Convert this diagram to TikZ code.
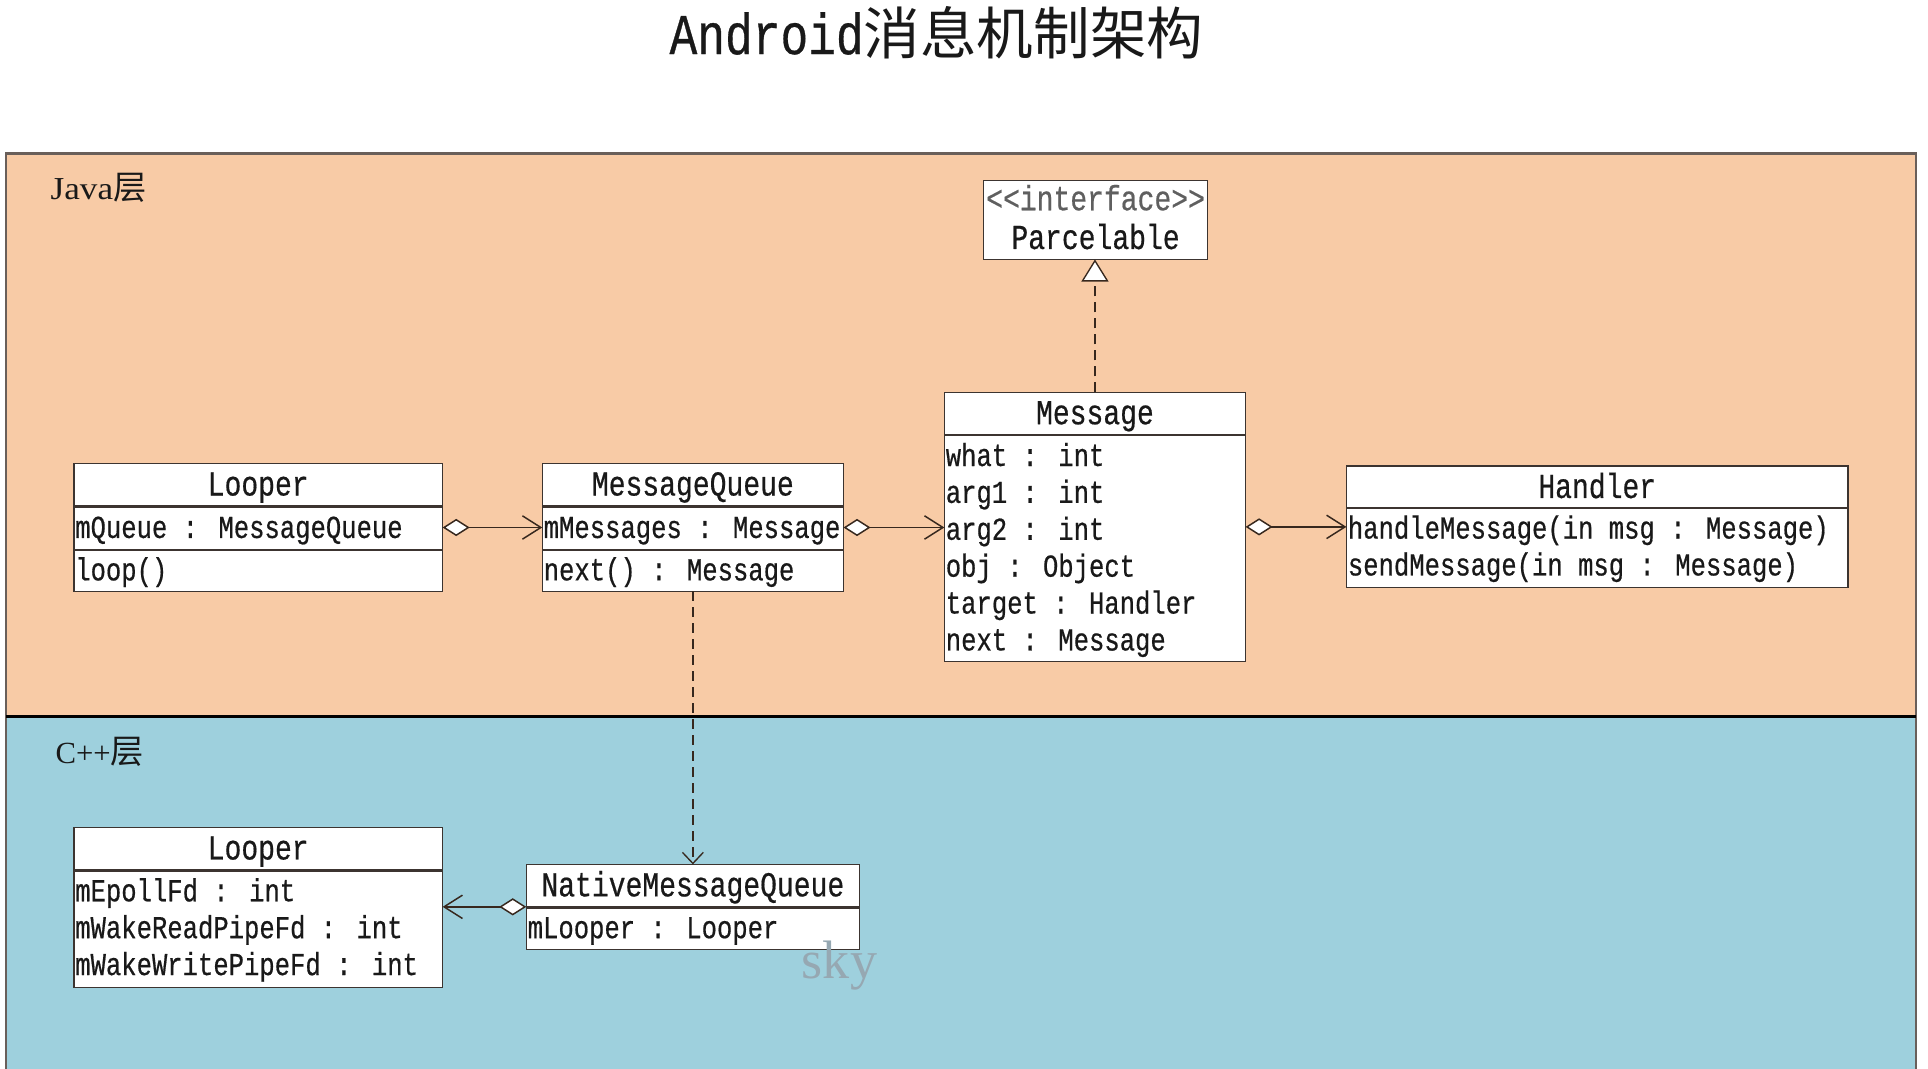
\documentclass[tikz,border=0pt]{standalone}
\usepackage{fontspec}
\usetikzlibrary{arrows.meta}
\newfontfamily\monof[FakeStretch=0.8,FakeBold=0.5]{Liberation Mono}
\newfontfamily\cjkf{Noto Sans CJK SC}
\newfontfamily\serf[FakeStretch=1.1]{Liberation Serif}
\newfontfamily\wmf{Liberation Serif}
\definecolor{javabg}{RGB}{248,203,166}
\definecolor{cppbg}{RGB}{158,208,221}
\definecolor{layerc}{RGB}{105,95,90}
\definecolor{edgec}{RGB}{60,52,48}
\definecolor{linec}{RGB}{55,40,30}
\definecolor{txtc}{RGB}{25,25,25}
\definecolor{grayt}{RGB}{95,95,95}
\definecolor{wmark}{RGB}{150,168,178}
\begin{document}
\begin{tikzpicture}[x=1pt,y=-1pt,
  cls/.style={draw=edgec, line width=1.2pt, fill=white, rectangle, inner sep=0pt, outer sep=0pt, anchor=north west},
  sepl/.style={draw=edgec, line width=1.8pt},
  hdr/.style={anchor=base, inner sep=0pt, font=\monof\fontsize{28.5}{30}\selectfont, text=txtc},
  rowt/.style={anchor=base west, inner sep=0pt, font=\monof\fontsize{26}{30}\selectfont, text=txtc},
  agg/.style={draw=linec, line width=1.2pt, {Diamond[fill=white,length=22pt,width=14pt]}-{Straight Barb[length=15pt,width=19pt]}},
  realiz/.style={draw=linec, line width=1.1pt, dash pattern=on 8pt off 5pt, -{Triangle[fill=white,length=18pt,width=22pt]}},
  depend/.style={draw=linec, line width=1.1pt, dash pattern=on 8pt off 5pt, -{Straight Barb[length=9pt,width=17pt]}}
]
\useasboundingbox (0,0) rectangle (1568,868.6);
\fill[white] (0,0) rectangle (1568,868.6);

% layers
\path[fill=javabg, draw=layerc, line width=2pt] (5,125) rectangle (1558,583);
\path[fill=cppbg, draw=layerc, line width=2pt] (5,583) rectangle (1558,900);
\draw[black, line width=2.6pt] (5,583) -- (1558,583);

% title
\node[anchor=base, inner sep=0pt, text=txtc] (title) at (761.5,44)
  {\monof\fontsize{47}{50}\selectfont Android\cjkf\fontsize{46}{50}\selectfont 消息机制架构};

% layer labels
\node[anchor=base west, inner sep=0pt, text=txtc] (javalbl) at (41,162)
  {\serf\fontsize{26}{28}\selectfont Java\cjkf\fontsize{27}{28}\selectfont 层};
\node[anchor=base west, inner sep=0pt, text=txtc] (cpplbl) at (45,621)
  {\wmf\fontsize{25}{28}\selectfont C++\cjkf\fontsize{27}{28}\selectfont 层};

% Parcelable
\node[cls, minimum width=182pt, minimum height=64pt] (parc) at (800,147) {};
\node[hdr, text=grayt] (parcst) at (891,171) {<<interface>>};
\node[hdr] (parcnm) at (891,202.5) {Parcelable};

% Message
\node[cls, minimum width=245pt, minimum height=219pt] (msg) at (768,319) {};
\draw[sepl] (768,354) -- (1013,354);
\node[hdr] (msgh) at (890.5,345) {Message};
\node[rowt] (msg1) at (769,379) {what : int};
\node[rowt] (msg2) at (769,409) {arg1 : int};
\node[rowt] (msg3) at (769,439) {arg2 : int};
\node[rowt] (msg4) at (769,469) {obj : Object};
\node[rowt] (msg5) at (769,499) {target : Handler};
\node[rowt] (msg6) at (769,529) {next : Message};

% Java Looper
\node[cls, minimum width=300pt, minimum height=104pt] (jlooper) at (60,377) {};
\draw[sepl] (60,412) -- (360,412);
\draw[sepl] (60,447) -- (360,447);
\node[hdr] (jlooperh) at (210,403) {Looper};
\node[rowt] (jlooper1) at (61,437.5) {mQueue : MessageQueue};
\node[rowt] (jlooper2) at (61,472) {loop()};

% MessageQueue
\node[cls, minimum width=245pt, minimum height=104pt] (mq) at (441,377) {};
\draw[sepl] (441,412) -- (686,412);
\draw[sepl] (441,447) -- (686,447);
\node[hdr] (mqh) at (563.5,403) {MessageQueue};
\node[rowt] (mq1) at (442,437.5) {mMessages : Message};
\node[rowt] (mq2) at (442,472) {next() : Message};

% Handler
\node[cls, minimum width=408pt, minimum height=99pt] (handler) at (1095,379) {};
\draw[sepl] (1095,413) -- (1503,413);
\node[hdr] (handlerh) at (1299,405) {Handler};
\node[rowt] (handler1) at (1096,438) {handleMessage(in msg : Message)};
\node[rowt] (handler2) at (1096,468) {sendMessage(in msg : Message)};

% C++ Looper
\node[cls, minimum width=300pt, minimum height=130pt] (clooper) at (60,673) {};
\draw[sepl] (60,708) -- (360,708);
\node[hdr] (clooperh) at (210,699) {Looper};
\node[rowt] (clooper1) at (61,733) {mEpollFd : int};
\node[rowt] (clooper2) at (61,763) {mWakeReadPipeFd : int};
\node[rowt] (clooper3) at (61,793) {mWakeWritePipeFd : int};

% NativeMessageQueue
\node[cls, minimum width=271pt, minimum height=69pt] (nmq) at (428,703) {};
\draw[sepl] (428,738) -- (699,738);
\node[hdr] (nmqh) at (563.5,729) {NativeMessageQueue};
\node[rowt] (nmq1) at (429,763) {mLooper : Looper};

% connectors
\draw[agg] (jlooper.east) -- (jlooper.east -| mq.west);
\draw[agg] (mq.east) -- (mq.east -| msg.west);
\draw[agg] (msg.east) -- (msg.east -| handler.west);
\draw[realiz] (msg.north) -- (msg.north |- parc.south);
\draw[depend] (mq.south) -- (mq.south |- nmq.north);
\draw[agg] (nmq.west) -- (nmq.west -| clooper.east);

% watermark
\node[anchor=base west, inner sep=0pt, text=wmark, font=\wmf\fontsize{44}{44}\selectfont] (wm) at (652,796) {sky};
\end{tikzpicture}
\end{document}
